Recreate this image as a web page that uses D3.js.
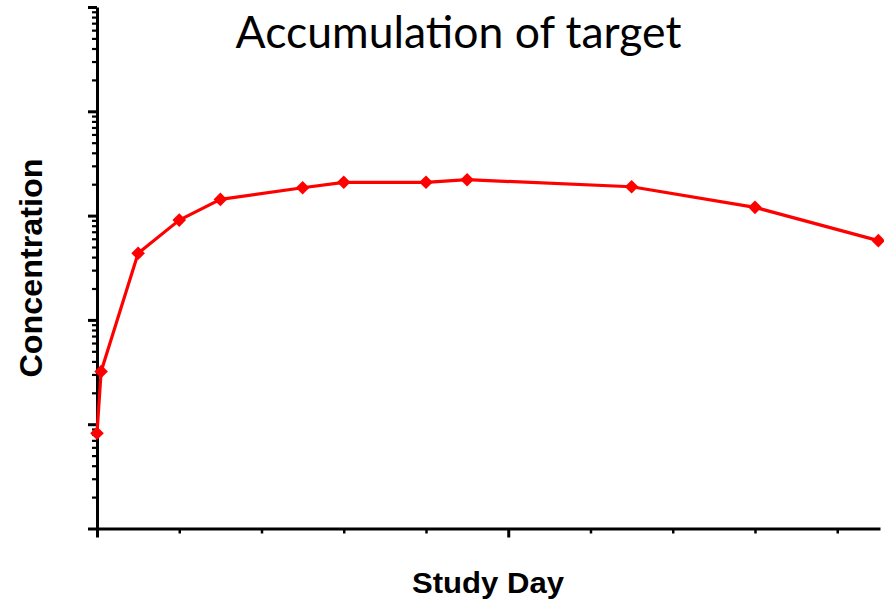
<!DOCTYPE html>
<html>
<head>
<meta charset="utf-8">
<script src="https://cdn.jsdelivr.net/npm/d3@7"></script>
<style>
  html, body { margin: 0; padding: 0; background: #fff; }
  svg { display: block; }
</style>
</head>
<body>
<svg id="chart" width="884" height="607"></svg>
<script>
// Study days at which samples were taken and the measured concentration
const studyDays = [0, 0.5, 5, 10, 15, 25, 30, 40, 45, 65, 80, 95];
const concentration = [8.2, 32, 435, 905, 1430, 1850, 2085, 2085, 2210, 1890, 1200, 575];

const xMajorTicks = [0, 50];
const xMinorTicks = [10, 20, 30, 40, 60, 70, 80, 90];
const yDecades = [1, 10, 100, 1000, 10000, 100000];

const chartTitle = "Accumulation of target";
const xTitle = "Study Day";
const yTitle = "Concentration";

const svg = d3.select("#chart");
const plotLeft = 97, plotRight = 880, plotBottom = 528.5, plotTop = 7;

const x = d3.scaleLinear().domain([0, 95.2]).range([plotLeft, plotRight]);
const y = d3.scaleLog().domain([1, 1e5]).range([plotBottom, plotTop]);

// minor log ticks: 2..9 within each decade
const yMinor = [];
yDecades.slice(0, -1).forEach(d => { for (let k = 2; k <= 9; k++) yMinor.push(d * k); });

// Y axis
const yAxisMajor = d3.axisLeft(y).tickValues(yDecades).tickSize(9).tickFormat("").tickSizeOuter(0);
const yAxisMinor = d3.axisLeft(y).tickValues(yMinor).tickSize(5).tickFormat("").tickSizeOuter(0);

const gyMinor = svg.append("g").attr("transform", `translate(${plotLeft},0)`).call(yAxisMinor);
gyMinor.select(".domain").remove();
gyMinor.selectAll(".tick line").attr("stroke", "#000").attr("stroke-width", 2.2);

const gyMajor = svg.append("g").attr("transform", `translate(${plotLeft},0)`).call(yAxisMajor);
gyMajor.select(".domain").attr("stroke", "#000").attr("stroke-width", 3);
gyMajor.selectAll(".tick line").attr("stroke", "#000").attr("stroke-width", 3);

// X axis
const xAxisMajor = d3.axisBottom(x).tickValues(xMajorTicks).tickSize(9).tickFormat("").tickSizeOuter(0);
const xAxisMinor = d3.axisBottom(x).tickValues(xMinorTicks).tickSize(5).tickFormat("").tickSizeOuter(0);

const gxMinor = svg.append("g").attr("transform", `translate(0,${plotBottom})`).call(xAxisMinor);
gxMinor.select(".domain").remove();
gxMinor.selectAll(".tick line").attr("stroke", "#000").attr("stroke-width", 2.5);

const gxMajor = svg.append("g").attr("transform", `translate(0,${plotBottom})`).call(xAxisMajor);
gxMajor.select(".domain").attr("stroke", "#000").attr("stroke-width", 3);
gxMajor.selectAll(".tick line").attr("stroke", "#000").attr("stroke-width", 3);

// Data line
const pts = studyDays.map((d, i) => [d, concentration[i]]);
const line = d3.line().x(d => x(d[0])).y(d => y(d[1]));

svg.append("path")
  .datum(pts)
  .attr("fill", "none")
  .attr("stroke", "#ff0000")
  .attr("stroke-width", 3.2)
  .attr("stroke-linejoin", "round")
  .attr("d", line);

const diamond = d3.symbol().type(d3.symbolDiamond2).size(118);
svg.append("g").selectAll("path")
  .data(pts)
  .join("path")
  .attr("transform", d => `translate(${x(d[0])},${y(d[1])})`)
  .attr("d", diamond)
  .attr("fill", "#ff0000");

// Titles
svg.append("text")
  .attr("x", 458.5).attr("y", 48)
  .attr("text-anchor", "middle")
  .attr("font-family", "Lato, 'Open Sans', sans-serif")
  .attr("font-size", 44.5)
  .attr("fill", "#000")
  .text(chartTitle);

svg.append("text")
  .attr("x", 488).attr("y", 593)
  .attr("text-anchor", "middle")
  .attr("font-family", "'Liberation Sans', Arial, sans-serif")
  .attr("font-weight", "bold")
  .attr("font-size", 29)
  .attr("textLength", 152)
  .attr("lengthAdjust", "spacingAndGlyphs")
  .attr("fill", "#000")
  .text(xTitle);

svg.append("text")
  .attr("transform", "translate(42,268) rotate(-90)")
  .attr("text-anchor", "middle")
  .attr("font-family", "'Liberation Sans', Arial, sans-serif")
  .attr("font-weight", "bold")
  .attr("font-size", 31)
  .attr("textLength", 219)
  .attr("lengthAdjust", "spacingAndGlyphs")
  .attr("fill", "#000")
  .text(yTitle);
</script>
</body>
</html>
